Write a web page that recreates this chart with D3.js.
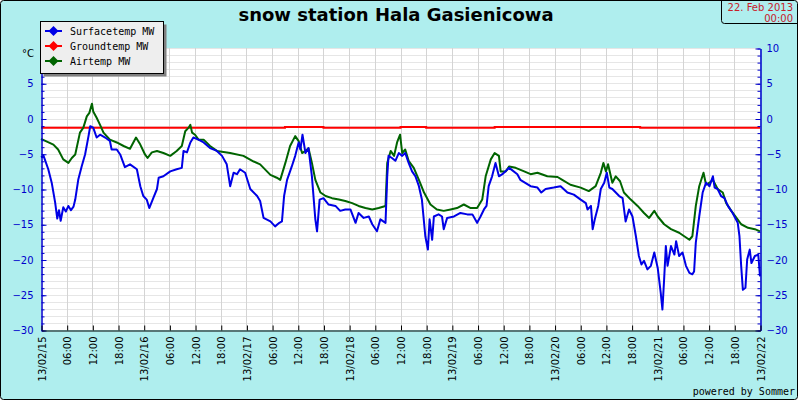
<!DOCTYPE html>
<html><head><meta charset="utf-8">
<script src="https://cdn.jsdelivr.net/npm/d3@7"></script>
<style>body{margin:0;background:#fff} svg{display:block}</style>
</head><body><svg id="c" width="799" height="401"></svg>
<script>
const title = "snow station Hala Gasienicowa";
const seriesNames = ["Surfacetemp MW", "Groundtemp MW", "Airtemp MW"];
const seriesColors = ["#0000e6", "#ff0000", "#006400"];
const stampLines = ["22. Feb 2013", "00:00"];
const unitLabel = "°C";
const credit = "powered by Sommer";
const startTime = new Date(2013, 1, 15, 0, 0);
const endTime = new Date(2013, 1, 22, 0, 0);
const yTicksLeft = [-30, -25, -20, -15, -10, -5, 0, 5];
const yTicksRight = [-30, -25, -20, -15, -10, -5, 0, 5, 10];

// hours since 13/02/15 00:00
const surfaceHours = [0,0.6,1.7,2.5,3.3,3.8,4.2,4.6,5.2,5.8,6.4,7.0,7.6,8.0,8.7,9.5,10.3,11.1,11.5,12.2,13.0,13.8,15.0,16.1,16.5,17.7,18.5,19.6,20.8,22.4,23.2,23.9,24.7,25.3,26.3,27.1,27.5,28.6,30.2,31.7,32.9,33.3,34.1,34.9,35.6,36.8,38.0,39.5,41.1,42.3,43.4,44.2,45.0,45.8,46.5,47.7,48.9,50.5,51.2,52.0,53.6,54.7,55.7,56.3,56.8,57.5,58.6,59.4,60.2,60.6,61.1,61.8,62.5,63.3,64.1,64.5,65.1,66.0,67.2,68.8,69.9,71.1,72.3,73.5,74.2,75.4,76.6,77.4,78.5,79.3,80.5,80.9,81.2,82.0,82.8,83.6,84.4,85.1,85.9,86.7,87.5,88.3,89.0,89.8,90.4,90.8,91.4,91.8,92.9,93.7,94.1,94.9,96.5,98.0,99.6,100.8,101.9,102.7,103.5,104.1,104.6,105.4,106.2,107.0,107.8,109.4,111.3,112.0,114.4,116.0,116.9,117.9,119.8,121.4,123.0,124.5,126.1,127.3,127.7,128.5,128.9,129.4,130.2,130.8,131.6,132.2,132.8,133.5,134.3,135.1,135.9,136.6,137.4,138.2,139.0,139.7,140.3,140.9,141.7,142.5,143.3,144.1,144.8,145.2,145.6,146.0,146.4,147.2,148.0,148.4,149.1,149.9,150.7,151.5,152.2,152.6,153.0,153.8,154.6,155.4,156.2,157.0,157.4,158.1,158.9,159.7,160.5,161.6,162.8,163.2,163.6,164.0,164.6,165.0,165.6,166.0,166.8,167.6,168.0];
const surfaceTemp = [-5.5,-5.3,-7.2,-9.1,-11.9,-14.2,-13.0,-14.5,-12.6,-13.2,-12.4,-13.0,-12.5,-11.5,-8.7,-6.8,-5.1,-2.5,-1.1,-1.3,-2.7,-2.3,-2.7,-3.2,-4.4,-4.4,-5.1,-6.9,-6.5,-7.2,-9.6,-11.0,-11.5,-12.7,-11.2,-10.0,-8.4,-8.2,-7.5,-7.2,-7.0,-4.6,-4.8,-3.4,-2.7,-3.0,-3.4,-4.2,-4.6,-5.3,-6.5,-9.6,-7.7,-7.9,-7.2,-7.7,-10.0,-11.0,-11.7,-14.1,-14.6,-15.3,-14.8,-14.6,-11.0,-8.7,-6.8,-5.3,-3.4,-4.4,-2.3,-4.9,-4.2,-8.2,-14.3,-16.0,-11.5,-11.3,-12.2,-12.4,-13.1,-12.9,-12.9,-14.8,-13.4,-14.1,-13.9,-15.0,-16.0,-14.3,-14.8,-8.2,-5.3,-5.6,-6.0,-4.9,-5.3,-4.9,-6.3,-7.5,-8.2,-9.6,-11.5,-16.7,-18.6,-14.3,-17.2,-13.9,-13.6,-13.9,-15.7,-14.1,-13.9,-13.4,-13.6,-13.6,-14.8,-13.9,-12.9,-12.4,-9.6,-8.2,-6.3,-8.2,-7.9,-7.0,-7.9,-8.7,-9.6,-9.8,-10.5,-10.0,-9.8,-9.6,-10.5,-10.8,-11.5,-12.0,-12.9,-12.4,-15.7,-14.3,-12.4,-10.0,-9.1,-7.7,-9.8,-10.0,-10.5,-11.0,-11.3,-14.6,-12.9,-13.9,-16.7,-19.5,-20.7,-20.2,-21.4,-20.9,-19.0,-21.2,-24.7,-27.1,-22.8,-18.1,-20.9,-18.1,-19.3,-17.4,-19.5,-19.0,-20.9,-21.9,-22.1,-21.7,-17.6,-13.9,-10.5,-9.1,-9.6,-8.2,-9.8,-10.0,-11.0,-11.3,-12.4,-13.4,-14.8,-16.7,-20.9,-24.3,-24.0,-20.0,-18.6,-20.5,-19.5,-19.3,-22.4];

const groundHours = [0,57,66,84,90,106,140,168];
const groundTemp = [-1.3,-1.2,-1.3,-1.2,-1.3,-1.2,-1.3,-1.3];

const airHours = [0,2.9,4.0,5.2,6.4,7.2,8.0,9.1,9.9,10.7,11.3,11.9,12.2,13.0,13.8,14.6,16.1,17.7,19.3,20.8,22.2,23.2,24.3,24.9,25.9,27.1,28.6,30.2,31.7,32.9,33.7,34.5,34.9,35.3,36.0,36.8,38.0,39.5,41.1,44.2,47.3,49.7,51.2,53.6,55.1,55.9,57.1,58.2,59.4,60.2,61.0,61.8,62.5,63.3,64.1,65.3,66.5,68.0,69.6,71.1,72.7,74.2,75.8,77.4,78.9,80.5,80.9,81.7,82.5,83.2,83.9,84.4,85.1,85.9,87.1,88.3,89.5,91.0,92.5,94.1,95.7,97.2,98.8,100.4,101.9,103.1,103.9,105.1,106.0,107.0,107.4,108.6,109.4,110.9,112.9,114.4,116.0,118.3,120.7,121.8,123.7,126.1,128.0,129.6,130.8,131.4,132.0,132.5,133.5,134.3,135.3,136.2,137.8,139.4,140.9,142.1,143.3,144.1,145.6,147.2,149.1,150.3,151.5,152.2,153.0,153.8,154.8,155.4,156.2,157.0,158.1,159.3,160.1,161.3,162.5,163.6,165.2,166.8,168.0];
const airTemp = [-2.9,-3.7,-4.4,-5.8,-6.3,-5.6,-5.1,-2.0,-1.3,0.3,0.8,2.1,1.0,0.1,-0.9,-2.0,-3.0,-3.4,-3.9,-4.3,-2.7,-3.7,-5.1,-5.6,-4.8,-4.6,-4.9,-5.3,-4.6,-3.9,-1.8,-1.3,-0.9,-2.0,-2.3,-3.0,-3.0,-3.9,-4.6,-4.9,-5.3,-6.1,-6.5,-8.0,-8.4,-8.7,-6.3,-3.9,-2.5,-3.2,-4.9,-4.6,-4.2,-6.3,-8.7,-10.5,-11.0,-11.3,-11.5,-11.7,-12.0,-12.4,-12.7,-12.9,-12.7,-12.4,-6.3,-4.6,-5.3,-3.4,-2.3,-4.9,-4.4,-6.0,-7.0,-8.7,-10.5,-12.2,-12.9,-13.1,-12.9,-12.7,-12.2,-12.7,-12.7,-11.5,-8.2,-5.8,-4.9,-5.3,-7.5,-7.5,-6.8,-7.0,-7.5,-7.9,-7.7,-8.2,-8.3,-8.7,-9.4,-9.8,-10.3,-9.6,-7.7,-6.3,-7.5,-6.5,-9.1,-8.2,-8.9,-10.5,-11.5,-12.4,-13.4,-14.1,-13.1,-13.9,-15.0,-15.7,-16.2,-16.7,-17.2,-16.7,-12.4,-9.6,-7.7,-9.4,-9.1,-8.7,-10.0,-10.5,-12.0,-13.1,-14.1,-15.0,-15.5,-15.7,-16.0];

const svg = d3.select("#c");
const W = 799, H = 401;
const bg = "#afeeee";
const axisBlue = "#0000cc";
const font = "DejaVu Sans, sans-serif";
const mono = "DejaVu Sans Mono, monospace";

svg.append("rect").attr("x", 0.5).attr("y", 0.5).attr("width", W - 2).attr("height", H - 2)
  .attr("rx", 3).attr("fill", bg).attr("stroke", "#000");

const plot = {l: 41, r: 760, t: 48, b: 330};
const x = d3.scaleTime().domain([startTime, endTime]).range([plot.l, plot.r]);
const y = d3.scaleLinear().domain([-30, 10]).range([plot.b, plot.t]);
const toDate = h => new Date(startTime.getTime() + h * 3600000);

svg.append("rect").attr("x", plot.l).attr("y", plot.t).attr("width", plot.r - plot.l).attr("height", plot.b - plot.t).attr("fill", "#fff");

// grid
const grid = svg.append("g").attr("stroke-width", 1);
grid.selectAll("line.h").data(d3.range(-29, 11)).join("line").attr("stroke", "#e6e6e6")
  .attr("x1", plot.l).attr("x2", plot.r)
  .attr("y1", d => Math.round(y(d)) + 0.5).attr("y2", d => Math.round(y(d)) + 0.5);
grid.selectAll("line.v").data(d3.timeHour.every(6).range(toDate(6), endTime)).join("line").attr("stroke", "#d4d4d4")
  .attr("y1", plot.t).attr("y2", plot.b)
  .attr("x1", d => Math.round(x(d)) + 0.5).attr("x2", d => Math.round(x(d)) + 0.5);

// series
const mk = (hours, vals) => hours.map((h, i) => ({d: toDate(h), v: vals[i]}));
const line = d3.line().x(p => x(p.d)).y(p => y(p.v));
const stepLine = d3.line().x(p => x(p.d)).y(p => y(p.v)).curve(d3.curveStepAfter);
svg.append("path").datum(mk(groundHours, groundTemp)).attr("d", stepLine)
  .attr("fill", "none").attr("stroke", seriesColors[1]).attr("stroke-width", 2);
svg.append("path").datum(mk(airHours, airTemp)).attr("d", line)
  .attr("fill", "none").attr("stroke", seriesColors[2]).attr("stroke-width", 2).attr("stroke-linejoin", "round");
svg.append("path").datum(mk(surfaceHours, surfaceTemp)).attr("d", line)
  .attr("fill", "none").attr("stroke", seriesColors[0]).attr("stroke-width", 2).attr("stroke-linejoin", "round");

// left axis
const minor = d3.range(-30, 11);
const la = svg.append("g").attr("transform", `translate(${plot.l + 0.5},0.5)`);
la.call(d3.axisLeft(y).tickValues(minor).tickSize(-3).tickSizeOuter(0).tickFormat(""));
la.append("g").call(d3.axisLeft(y).tickValues(yTicksLeft).tickSize(-5).tickSizeOuter(0).tickPadding(8));
la.selectAll("path,line").attr("stroke", axisBlue);
la.selectAll("text").attr("fill", axisBlue).attr("font-family", font).attr("font-size", 10);

// right axis
const ra = svg.append("g").attr("transform", `translate(${plot.r + 0.5},0.5)`);
ra.call(d3.axisRight(y).tickValues(minor).tickSize(-3).tickSizeOuter(0).tickFormat(""));
ra.append("g").call(d3.axisRight(y).tickValues(yTicksRight).tickSize(-5).tickSizeOuter(0).tickPadding(6));
ra.selectAll("path,line").attr("stroke", axisBlue);
ra.selectAll("text").attr("fill", axisBlue).attr("font-family", font).attr("font-size", 10);

// bottom axis
const fmtDay = d3.timeFormat("%y/%m/%d"), fmtHour = d3.timeFormat("%H:%M");
const ba = svg.append("g").attr("transform", `translate(0.5,${plot.b + 0.5})`);
ba.call(d3.axisBottom(x).ticks(d3.timeHour.every(6)).tickSize(-5).tickSizeOuter(0)
  .tickFormat(d => d.getHours() === 0 ? fmtDay(d) : fmtHour(d)));
ba.selectAll("path,line").attr("stroke", "#000");
ba.selectAll("text").attr("fill", "#000").attr("font-family", font).attr("font-size", 10)
  .attr("transform", "rotate(-90)").attr("x", -6).attr("y", 0).attr("dy", "0.35em").attr("text-anchor", "end");

// unit
svg.append("text").attr("x", 34).attr("y", 57).attr("text-anchor", "end")
  .attr("font-family", font).attr("font-size", 10).text(unitLabel);

// title
svg.append("text").attr("x", 396).attr("y", 21).attr("text-anchor", "middle")
  .attr("font-family", font).attr("font-weight", "bold").attr("font-size", 18).text(title);

// stamp box
svg.append("path").attr("d", "M721.5,0.5 V20.5 Q721.5,23.5 724.5,23.5 H798").attr("fill", "none").attr("stroke", "#000");
svg.append("text").attr("x", 793).attr("text-anchor", "end").attr("font-family", font).attr("font-size", 10)
  .attr("fill", "#c8202a").selectAll("tspan").data(stampLines).join("tspan")
  .attr("x", 793).attr("y", (d, i) => 11 + i * 11).text(d => d);

// legend
const lg = svg.append("g");
lg.append("rect").attr("x", 43.5).attr("y", 24.5).attr("width", 123).attr("height", 52).attr("fill", "#808080");
lg.append("rect").attr("x", 40.5).attr("y", 21.5).attr("width", 123).attr("height", 52).attr("fill", "#eeeeee").attr("stroke", "#000");
const order = [0, 1, 2];
const items = lg.selectAll("g.it").data(order).join("g").attr("transform", (d, i) => `translate(0,${31 + i * 15})`);
items.append("line").attr("x1", 45).attr("x2", 62).attr("y1", 0).attr("y2", 0)
  .attr("stroke", d => seriesColors[d]).attr("stroke-width", 2);
items.append("path").attr("transform", "translate(53.5,0)").attr("d", "M-5,0L0,-5L5,0L0,5Z").attr("fill", d => seriesColors[d]);
items.append("text").attr("x", 70).attr("y", 0).attr("dy", "0.35em").attr("font-family", mono).attr("font-size", 10)
  .attr("fill", "#000").text(d => seriesNames[d]);

// credit
svg.append("text").attr("x", 795).attr("y", 395).attr("text-anchor", "end")
  .attr("font-family", mono).attr("font-size", 10).attr("fill", "#000").text(credit);
</script></body></html>
